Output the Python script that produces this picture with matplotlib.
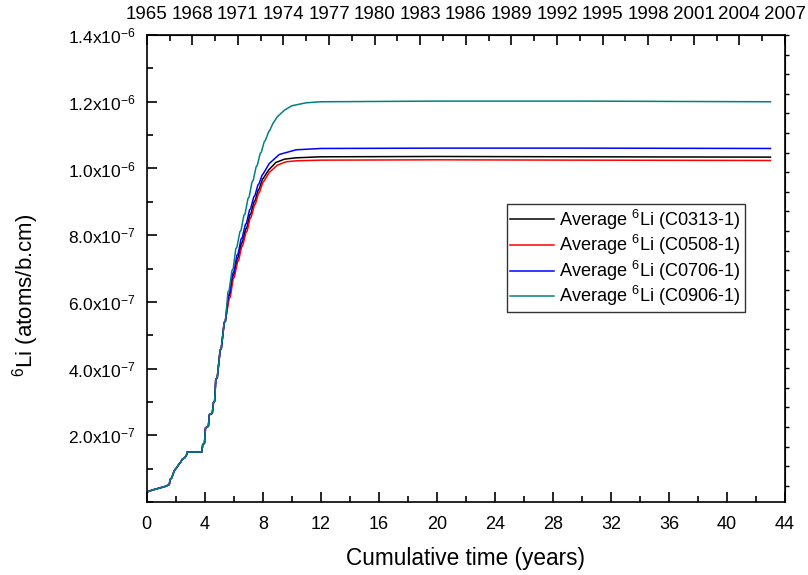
import matplotlib
matplotlib.use("Agg")
import numpy as np
import matplotlib.pyplot as plt
from matplotlib.ticker import MultipleLocator, FixedLocator, FixedFormatter

plt.rcParams['font.family'] = ['Liberation Sans', 'DejaVu Sans']
plt.rcParams['mathtext.fontset'] = 'custom'
plt.rcParams['mathtext.rm'] = 'Liberation Sans'
plt.rcParams['mathtext.it'] = 'Liberation Sans'

# values in units of 1e-7 atoms/b.cm, time in years
t_early = [0.0, 0.02, 0.4, 0.9, 1.3, 1.55, 1.62, 1.72, 1.85, 1.92, 2.1, 2.2, 2.35,
           2.45, 2.6, 2.72, 2.8, 3.8, 3.86, 3.98, 4.05, 4.25, 4.32, 4.52, 4.6, 4.68,
           4.76, 4.86, 5.06, 5.14, 5.34, 5.42]
v_early = [0.2, 0.3, 0.36, 0.42, 0.47, 0.52, 0.68, 0.72, 0.88, 0.95, 1.05, 1.12, 1.2,
           1.28, 1.32, 1.38, 1.5, 1.5, 1.72, 1.76, 2.22, 2.27, 2.62, 2.66, 2.98, 3.02,
           3.68, 3.72, 4.55, 4.6, 5.38, 5.42]

t_c0313 = [5.66, 5.74, 5.94, 6.02, 6.24, 6.32, 6.52, 6.6, 6.82, 6.9, 7.1, 7.18, 7.4, 7.48,
           7.68, 7.76, 7.98, 8.06, 8.4, 8.9, 9.5, 10.3, 12.0, 20.0, 30.0, 43.0]
v_c0313 = [6.18, 6.22, 6.78, 6.82, 7.3, 7.34, 7.75, 7.79, 8.18, 8.22, 8.6, 8.64, 9.0, 9.04,
           9.35, 9.39, 9.68, 9.72, 9.95, 10.18, 10.28, 10.32, 10.35, 10.36, 10.35, 10.34]

t_c0508 = [5.68, 5.76, 5.96, 6.04, 6.26, 6.34, 6.54, 6.62, 6.84, 6.92, 7.12, 7.2, 7.42, 7.5,
           7.7, 7.78, 8.0, 8.08, 8.45, 9.0, 9.6, 10.3, 12.0, 20.0, 30.0, 43.0]
v_c0508 = [6.1, 6.14, 6.7, 6.74, 7.2, 7.24, 7.65, 7.69, 8.08, 8.12, 8.5, 8.54, 8.9, 8.94,
           9.25, 9.29, 9.58, 9.62, 9.88, 10.1, 10.2, 10.23, 10.25, 10.26, 10.25, 10.24]

t_c0706 = [5.64, 5.72, 5.92, 6.0, 6.22, 6.3, 6.5, 6.58, 6.8, 6.88, 7.08, 7.16, 7.38, 7.46,
           7.66, 7.74, 7.95, 8.03, 8.45, 9.14, 10.3, 12.0, 20.0, 30.0, 43.0]
v_c0706 = [6.22, 6.26, 6.85, 6.89, 7.4, 7.44, 7.88, 7.92, 8.32, 8.36, 8.75, 8.79, 9.15, 9.19,
           9.5, 9.54, 9.8, 9.84, 10.15, 10.42, 10.56, 10.6, 10.61, 10.61, 10.6]

t_c0906 = [5.6, 5.68, 5.88, 5.96, 6.14, 6.22, 6.42, 6.5, 6.7, 6.78, 6.98, 7.06, 7.26, 7.34,
           7.54, 7.62, 7.82, 7.9, 8.1, 8.18, 8.4, 8.48, 8.7, 8.78, 9.0, 9.5, 10.0, 11.0,
           12.0, 20.0, 30.0, 43.0]
v_c0906 = [6.3, 6.34, 6.95, 6.99, 7.6, 7.64, 8.1, 8.14, 8.6, 8.64, 9.1, 9.14, 9.6, 9.64,
           10.05, 10.09, 10.45, 10.49, 10.8, 10.84, 11.1, 11.14, 11.35, 11.4, 11.55, 11.75,
           11.88, 11.97, 12.0, 12.02, 12.02, 12.0]

series = [
    ('C0313-1', t_c0313, v_c0313, '#000000'),
    ('C0508-1', t_c0508, v_c0508, '#ff0000'),
    ('C0706-1', t_c0706, v_c0706, '#0000ff'),
    ('C0906-1', t_c0906, v_c0906, '#008080'),
]

ytick_vals = [2e-7, 4e-7, 6e-7, 8e-7, 1.0e-6, 1.2e-6, 1.4e-6]
ytick_labels = [r'2.0x10$^{\mathregular{-7}}$', r'4.0x10$^{\mathregular{-7}}$',
                r'6.0x10$^{\mathregular{-7}}$', r'8.0x10$^{\mathregular{-7}}$',
                r'1.0x10$^{\mathregular{-6}}$', r'1.2x10$^{\mathregular{-6}}$',
                r'1.4x10$^{\mathregular{-6}}$']
years = list(range(1965, 2008, 3))

fig = plt.figure(figsize=(8.08, 5.75), dpi=100)
ax = fig.add_axes([0.1816, 0.127, 0.7899, 0.812])

for name, t, v, c in series:
    tt = np.array(t_early + t)
    vv = np.array(v_early + v) * 1e-7
    ax.plot(tt, vv, color=c, lw=1.1, label=r'Average $^{\mathregular{6}}$Li (%s)' % name)

ax.set_xlim(0, 44)
ax.set_ylim(0, 1.4e-6)
ax.xaxis.set_major_locator(MultipleLocator(4))
ax.xaxis.set_minor_locator(MultipleLocator(2))
ax.yaxis.set_major_locator(FixedLocator(ytick_vals))
ax.yaxis.set_major_formatter(FixedFormatter(ytick_labels))
ax.yaxis.set_minor_locator(MultipleLocator(1e-7))
ax.tick_params(which='both', direction='in', top=False, right=False, width=1.2)
ax.tick_params(which='major', length=7)
ax.tick_params(which='minor', length=4)
ax.tick_params(axis='x', pad=10, labelsize=13)
ax.tick_params(axis='y', pad=8, labelsize=12.5)
for s in ax.spines.values():
    s.set_linewidth(1.2)

ax.set_xlabel('Cumulative time (years)', fontsize=16.3, labelpad=10)
ax.set_ylabel(r'$^{\mathregular{6}}$Li (atoms/b.cm)', fontsize=16)
ax.yaxis.set_label_coords(-0.166, 0.443)

# top axis in calendar years
top = ax.secondary_xaxis('top', functions=(lambda x: 1965 + x * 42 / 44,
                                            lambda y: (y - 1965) * 44 / 42))
top.set_xticks(years)
top.set_xticklabels([str(y) for y in years])
top.xaxis.set_minor_locator(MultipleLocator(1.5))
top.tick_params(which='both', direction='in', labelsize=13.5, width=1.2, pad=9)
top.tick_params(which='major', length=7)
top.tick_params(which='minor', length=4)

# right axis: unlabeled ticks
right = ax.secondary_yaxis('right', functions=(lambda v: (1.4e-6 - v) / 1.4e-6 * 23.83,
                                                lambda k: 1.4e-6 - k / 23.83 * 1.4e-6))
right.set_yticks(range(0, 24))
right.set_yticklabels([])
right.tick_params(direction='out', length=3, width=1.0)

leg = ax.legend(loc='upper left', bbox_to_anchor=(0.564, 0.638), fontsize=13.1,
                frameon=True, fancybox=False, edgecolor='black', borderaxespad=0,
                handlelength=2.4, labelspacing=0.08, handletextpad=0.3, borderpad=0.2)
leg.get_frame().set_linewidth(1.0)

fig.savefig('out.png', dpi=100)
